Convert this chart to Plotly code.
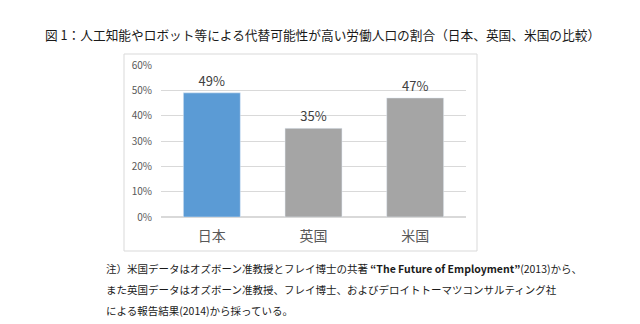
import plotly.graph_objects as go

categories = ["日本", "英国", "米国"]
values = [0.49, 0.35, 0.47]
labels = ["49%", "35%", "47%"]
colors = ["#5B9BD5", "#A5A5A5", "#A5A5A5"]

title = "図 1：人工知能やロボット等による代替可能性が高い労働人口の割合（日本、英国、米国の比較）"
notes = [
    "注）米国データはオズボーン准教授とフレイ博士の共著 <b>“The Future of Employment”</b>(2013)から、",
    "また英国データはオズボーン准教授、フレイ博士、およびデロイトトーマツコンサルティング社",
    "による報告結果(2014)から採っている。",
]

W, H = 640, 324
X0, X1, YT, YB = 161, 466, 65, 217

def fx(px):
    return (px - X0) / (X1 - X0)

def fy(py):
    return (YB - py) / (YB - YT)

fig = go.Figure(go.Bar(
    x=categories, y=values, marker_color=colors, width=0.56,
    text=labels, textposition="outside", cliponaxis=False,
    textfont=dict(size=13, color="#404040", family="Noto Sans CJK JP"),
))

fig.update_layout(
    width=W, height=H,
    margin=dict(l=X0, r=W - X1, t=YT, b=H - YB),
    paper_bgcolor="white", plot_bgcolor="white",
    showlegend=False,
    font=dict(family="Noto Sans CJK JP", color="#595959"),
    xaxis=dict(showgrid=False, showline=False, ticks="",
               tickfont=dict(size=14, color="#595959"), ticklabelstandoff=9),
    yaxis=dict(range=[0, 0.6], dtick=0.1, tickformat=".0%", showgrid=True,
               gridcolor="#D9D9D9", gridwidth=1, zeroline=True, zerolinecolor="#D9D9D9",
               tickfont=dict(size=10, color="#595959"), ticklabelstandoff=8),
)

fig.add_shape(type="rect", xref="paper", yref="paper",
              x0=fx(124), x1=fx(477), y0=fy(251), y1=fy(54),
              line=dict(color="#D9D9D9", width=1), fillcolor="rgba(0,0,0,0)", layer="below")

fig.add_annotation(text=title, xref="paper", yref="paper", x=fx(322.5), y=fy(35),
                   xanchor="center", yanchor="middle", showarrow=False,
                   font=dict(size=12.7, color="#1a1a1a", family="Noto Sans CJK JP"))

for i, t in enumerate(notes):
    fig.add_annotation(text=t, xref="paper", yref="paper", x=fx(104), y=fy(268 + 21 * i),
                       xanchor="left", yanchor="middle", showarrow=False,
                       font=dict(size=10.5, color="#1a1a1a", family="Noto Sans CJK JP"))

fig.write_html("out.html")
